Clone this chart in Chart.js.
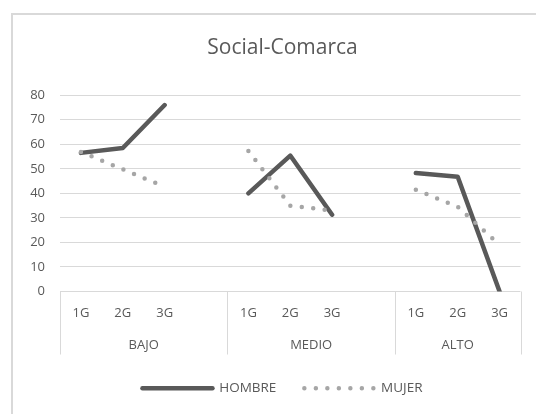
<!DOCTYPE html>
<html>
<head>
<meta charset="utf-8">
<script src="https://cdn.jsdelivr.net/npm/chart.js@4"></script>
<style>
  body { margin: 0; background: #fff; overflow: hidden; }
  #frame { position: absolute; left: 11px; top: 13px; width: 700px; height: 600px;
           border-left: 2px solid #d9d9d9; border-top: 2px solid #d9d9d9; }
  #chart { position: absolute; left: 0; top: 0; }
</style>
</head>
<body>
<div id="frame"></div>
<canvas id="chart" width="565" height="414"></canvas>
<script>
let categories = ['1G','2G','3G','','1G','2G','3G','','1G','2G','3G']
let groups = ['BAJO','MEDIO','ALTO']
let groupStart = [0,4,8]
let groupEnd = [3,7,10]
let hombre = [56.5,58.5,76,null,40,55.4,31.3,null,48.3,46.8,0]
let mujer = [56.9,49.8,42.7,null,57.3,35,33,null,41.5,34.5,19]
let yTicks = [0,10,20,30,40,50,60,70,80]

let textColor = '#595959'
let font = 'Open Sans'

// draws the BAJO / MEDIO / ALTO row and the separators under the axis
let groupAxis = {
  id:'groupAxis',
  afterDraw(chart){
    let ctx = chart.ctx
    let xs = chart.scales.x
    let step = xs.getPixelForValue(1) - xs.getPixelForValue(0)
    ctx.save()
    ctx.strokeStyle = '#d9d9d9'
    ctx.lineWidth = 1
    let edges = groupStart.map(i => xs.getPixelForValue(i) - step/2)
    edges.push(xs.getPixelForValue(groupEnd[groupEnd.length-1]) + step/2)
    edges.forEach(x => {
      x = Math.round(x) + 0.5
      ctx.beginPath()
      ctx.moveTo(x, xs.top)
      ctx.lineTo(x, xs.top + 63)
      ctx.stroke()
    })
    ctx.fillStyle = textColor
    ctx.font = '13px "' + font + '"'
    ctx.textAlign = 'center'
    ctx.textBaseline = 'middle'
    groups.forEach((g, i) => {
      let cx = (xs.getPixelForValue(groupStart[i]) + xs.getPixelForValue(groupEnd[i])) / 2
      ctx.fillText(g, cx, xs.top + 54)
    })
    ctx.restore()
  }
}

let stats = document.querySelector('#chart').getContext('2d')

let chart = new Chart(stats, {
  type:'line',
  data:{
    labels:categories,
    datasets:[{
      label:'HOMBRE',
      data:hombre,
      borderColor:'#595959',
      borderWidth:4.5,
      borderCapStyle:'round',
      borderJoinStyle:'round',
      pointRadius:0,
      order:1
    },{
      label:'MUJER',
      data:mujer,
      borderColor:'#a6a6a6',
      borderWidth:4.5,
      borderDash:[0,11.5],
      borderCapStyle:'round',
      borderJoinStyle:'round',
      pointRadius:0,
      order:0
    }]
  },
  options:{
    responsive:false,
    animation:false,
    layout:{ padding:{ left:0, right:0, top:0, bottom:9 } },
    plugins:{
      title:{
        display:true,
        text:'Social-Comarca',
        color:textColor,
        font:{ family:font, size:21, weight:'normal' },
        padding:{ top:35, bottom:35 }
      },
      legend:{
        display:true,
        position:'bottom',
        labels:{
          usePointStyle:true,
          pointStyle:'line',
          pointStyleWidth:70,
          color:textColor,
          font:{ family:font, size:13.5 },
          padding:28,
          sort:(a,b) => a.datasetIndex - b.datasetIndex,
          generateLabels(chart){
            let items = Chart.defaults.plugins.legend.labels.generateLabels(chart)
            items.forEach(it => {
              let ds = chart.data.datasets[it.datasetIndex]
              it.lineDash = ds.borderDash || []
              it.lineCap = 'round'
              it.lineWidth = ds.borderWidth
              it.strokeStyle = ds.borderColor
            })
            return items
          }
        }
      },
      tooltip:{ enabled:false }
    },
    scales:{
      x:{
        offset:true,
        grid:{ display:false, drawTicks:false },
        border:{ display:false },
        ticks:{ color:textColor, font:{ family:font, size:13 }, padding:14, maxRotation:0, autoSkip:false },
        afterFit:(s) => { s.height = 62 }
      },
      y:{
        min:0,
        max:80,
        afterBuildTicks:(s) => { s.ticks = yTicks.map(v => ({ value:v })) },
        grid:{ color:'#d9d9d9', lineWidth:1, drawTicks:false },
        border:{ display:false },
        ticks:{ color:textColor, font:{ family:font, size:13 }, padding:15 },
        afterFit:(s) => { s.width = 60 }
      },
      // empty right-hand space of the chart frame
      spacer:{
        type:'linear',
        position:'right',
        grid:{ display:false, drawTicks:false },
        border:{ display:false },
        ticks:{ display:false },
        afterFit:(s) => { s.width = 44.5 }
      }
    }
  },
  plugins:[groupAxis]
})
</script>
</body>
</html>
